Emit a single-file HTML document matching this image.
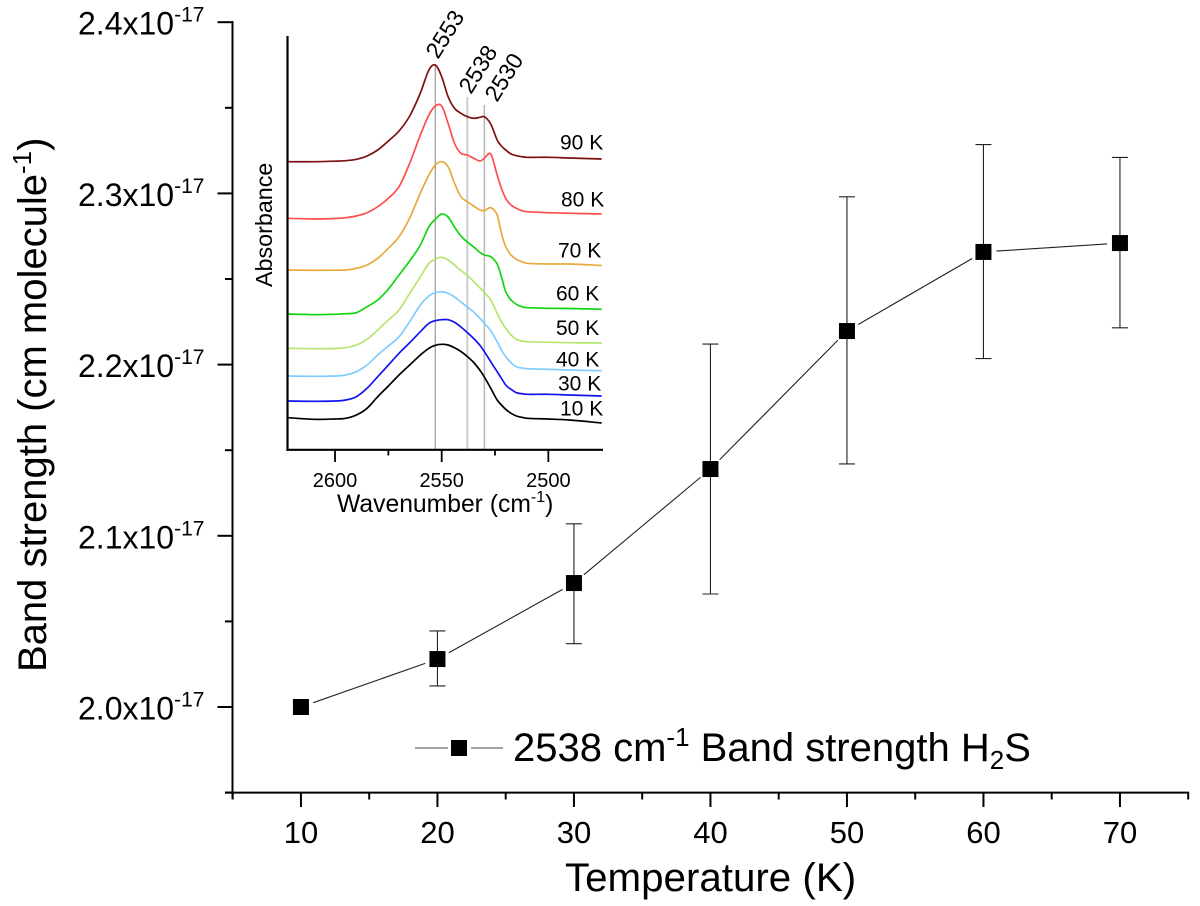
<!DOCTYPE html>
<html lang="en">
<head>
<meta charset="utf-8">
<title>Band strength vs temperature</title>
<style>
html,body{margin:0;padding:0;background:#fff;}
svg{display:block;font-family:"Liberation Sans",Arial,sans-serif;}
</style>
</head>
<body>
<svg id="chart" width="1200" height="906" viewBox="0 0 1200 906" xmlns="http://www.w3.org/2000/svg">
  <g id="main-plot"></g>
  <g id="inset-plot"></g>
  <text transform="translate(46,672) rotate(-90)" font-size="40">Band strength (cm molecule<tspan font-size="26" dy="-15">-1</tspan><tspan dy="15">)</tspan></text>
  <text x="565" y="891" font-size="40.3">Temperature (K)</text>
  <g>
    <line x1="415" x2="448" y1="748" y2="748" stroke="#444" stroke-width="1"/>
    <line x1="471" x2="503" y1="748" y2="748" stroke="#444" stroke-width="1"/>
    <rect x="451" y="740" width="16" height="16" fill="#000"/>
    <text x="513" y="761" font-size="40">2538 cm<tspan font-size="26" dy="-15">-1</tspan><tspan dy="15"> Band strength H</tspan><tspan font-size="26" dy="8">2</tspan><tspan dy="-8">S</tspan></text>
  </g>
  <text transform="translate(272,287) rotate(-90)" font-size="23.3">Absorbance</text>
  <text x="337" y="512" font-size="24.7">Wavenumber (cm<tspan font-size="16" dy="-10">-1</tspan><tspan dy="10">)</tspan></text>
  <text transform="translate(438,60) rotate(-58)" font-size="23">2553</text>
  <text transform="translate(471,95) rotate(-58)" font-size="23">2538</text>
  <text transform="translate(497,103) rotate(-58)" font-size="23">2530</text>
</svg>
<script>
// ---- main chart data ----
const temperatures = [10, 20, 30, 40, 50, 60, 70];
const bandStrength = [2.000, 2.028, 2.0724, 2.139, 2.2196, 2.2658, 2.271];
const errorUpper = [null, 2.0444, 2.107, 2.212, 2.298, 2.3285, 2.321];
const errorLower = [null, 2.0123, 2.037, 2.066, 2.142, 2.2035, 2.2215];
const xMajorTicks = [10, 20, 30, 40, 50, 60, 70];
const xMinorTicks = [5, 15, 25, 35, 45, 55, 65, 75];
const yMajorTicks = [2.0, 2.1, 2.2, 2.3, 2.4];
const yMinorTicks = [1.95, 2.05, 2.15, 2.25, 2.35];
const yTickLabels = ["2.0x10", "2.1x10", "2.2x10", "2.3x10", "2.4x10"];
const yTickExponent = "-17";

// ---- inset data ----
const wavenumbers = [2622,2610,2600,2595,2590,2585,2580,2575,2570,2565,2560,2556,2553,2550,2547,2544,2541,2538,2535,2532,2530,2527,2524,2522,2520,2517.5,2515,2512.5,2510,2500,2490,2475];
const abs10K = [.323,.307,.31,.317,.35,.417,.533,.64,.75,.85,.95,1.017,1.047,1.057,1.05,1.022,.985,.935,.875,.795,.73,.617,.50,.45,.407,.367,.34,.327,.317,.31,.30,.27];
const abs30K = [.49,.487,.49,.50,.533,.617,.733,.85,.967,1.073,1.183,1.267,1.293,1.303,1.303,1.277,1.23,1.175,1.115,1.045,.983,.883,.783,.717,.65,.607,.573,.563,.557,.557,.55,.54];
const abs40K = [.74,.737,.74,.75,.783,.85,.95,1.04,1.133,1.283,1.45,1.54,1.573,1.583,1.567,1.53,1.48,1.43,1.38,1.315,1.267,1.193,1.083,1.00,.933,.873,.833,.82,.813,.807,.80,.793];
const abs50K = [1.017,1.013,1.015,1.023,1.05,1.107,1.20,1.30,1.40,1.567,1.733,1.867,1.91,1.927,1.90,1.85,1.795,1.745,1.685,1.62,1.577,1.50,1.367,1.283,1.217,1.15,1.107,1.09,1.083,1.077,1.073,1.07];
const abs60K = [1.36,1.353,1.357,1.363,1.373,1.433,1.50,1.61,1.75,1.89,2.05,2.233,2.307,2.36,2.33,2.23,2.14,2.08,2.03,1.975,1.95,1.933,1.86,1.733,1.583,1.50,1.457,1.433,1.423,1.417,1.415,1.407];
const abs70K = [1.80,1.797,1.798,1.80,1.817,1.85,1.917,2.017,2.133,2.32,2.57,2.75,2.85,2.883,2.833,2.667,2.533,2.483,2.44,2.40,2.393,2.423,2.35,2.167,2.033,1.95,1.907,1.883,1.867,1.86,1.86,1.845];
const abs80K = [2.317,2.31,2.315,2.323,2.34,2.373,2.433,2.517,2.633,2.867,3.15,3.35,3.44,3.44,3.267,3.067,2.967,2.95,2.917,2.89,2.917,2.96,2.75,2.617,2.517,2.45,2.417,2.393,2.383,2.373,2.367,2.36];
const abs90K = [2.883,2.883,2.888,2.893,2.907,2.94,3.00,3.09,3.19,3.34,3.57,3.80,3.85,3.733,3.533,3.417,3.367,3.333,3.317,3.327,3.333,3.26,3.10,3.04,3.00,2.96,2.943,2.933,2.927,2.927,2.92,2.91];
const insetXMajorTicks = [2600, 2550, 2500];
const insetXMinorTicks = [2575, 2525];
const peakWavenumbers = [2553, 2538, 2530];
const peakTopAbs = [3.85, 3.53, 3.45];

const NS = "http://www.w3.org/2000/svg";
function mk(parent, tag, attrs, text) {
  const el = document.createElementNS(NS, tag);
  for (const k in attrs) el.setAttribute(k, attrs[k]);
  if (text !== undefined) el.textContent = text;
  parent.appendChild(el);
  return el;
}

// axis functions
const sx = t => 232.7 + (t - 5) * 13.65;
const sy = v => 707 - (v - 2.0) * 1712;
const ix = w => 441.7 + (2550 - w) * 2.133;
const iy = a => 450 - a * 100;

const main = document.getElementById("main-plot");
const inset = document.getElementById("inset-plot");

// main axes
const yAxis = mk(main, "line", {x1: 232.5, x2: 232.5, y1: 21, y2: 799, stroke: "#000", "stroke-width": 2});


const xAxis = mk(main, "line", {x1: 225, x2: 1189, y1: sy(1.95), y2: sy(1.95), stroke: "#000", "stroke-width": 2});



xMajorTicks.forEach(t => {
  const tick = mk(main, "line", {x1: sx(t), x2: sx(t), y1: 792, y2: 807, stroke: "#000", "stroke-width": 2});
  
  
  const label = mk(main, "text", {x: sx(t), y: 843, "font-size": 31, "text-anchor": "middle"}, String(t));
  
  
});
xMinorTicks.forEach(t => {
  const tick = mk(main, "line", {x1: sx(t), x2: sx(t), y1: 792, y2: 799.5, stroke: "#000", "stroke-width": 2});
  
  
});
yMajorTicks.forEach((v, i) => {
  const tick = mk(main, "line", {x1: 217.5, x2: 232.5, y1: sy(v), y2: sy(v), stroke: "#000", "stroke-width": 2});
  
  
  const label = mk(main, "text", {x: 78, y: sy(v) + 12.5, "font-size": 32}, yTickLabels[i]);
  
  
  const sup = mk(label, "tspan", {"font-size": 21, dy: -13}, yTickExponent);
  
  
});
yMinorTicks.forEach(v => {
  const tick = mk(main, "line", {x1: 225, x2: 232.5, y1: sy(v), y2: sy(v), stroke: "#000", "stroke-width": 2});
  
  
});

// error bars
temperatures.forEach((t, i) => {
  if (errorUpper[i] === null) return;
  const x = sx(t), top = sy(errorUpper[i]), bottom = sy(errorLower[i]);
  const bar = mk(main, "line", {x1: x, x2: x, y1: top, y2: bottom, stroke: "#222", "stroke-width": 1.1});
  
  
  const capTop = mk(main, "line", {x1: x - 8, x2: x + 8, y1: top, y2: top, stroke: "#222", "stroke-width": 1.1});
  
  
  const capBottom = mk(main, "line", {x1: x - 8, x2: x + 8, y1: bottom, y2: bottom, stroke: "#222", "stroke-width": 1.1});
  
  
});

// connecting line segments, with a gap around each marker
for (let i = 0; i < temperatures.length - 1; i++) {
  const x0 = sx(temperatures[i]), y0 = sy(bandStrength[i]);
  const x1 = sx(temperatures[i + 1]), y1 = sy(bandStrength[i + 1]);
  const len = Math.hypot(x1 - x0, y1 - y0), gap = 13;
  const ux = (x1 - x0) / len, uy = (y1 - y0) / len;
  const seg = mk(main, "line", {x1: x0 + ux * gap, y1: y0 + uy * gap, x2: x1 - ux * gap, y2: y1 - uy * gap, stroke: "#222", "stroke-width": 1.1});
  
  
}
temperatures.forEach((t, i) => {
  const m = mk(main, "rect", {x: sx(t) - 8, y: sy(bandStrength[i]) - 8, width: 16, height: 16, fill: "#000"});
  
  
});

// inset peak marker lines
const peakStroke = ["#999", "#ccc", "#bbb"];
const peakWidth = [1.2, 2, 1.6];
peakWavenumbers.forEach((w, i) => {
  const l = mk(inset, "line", {x1: ix(w), x2: ix(w), y1: iy(peakTopAbs[i]), y2: 450, stroke: peakStroke[i], "stroke-width": peakWidth[i]});
  
  
});

// inset spectra
function curvePath(values) {
  const xs = wavenumbers.map(ix), ys = values.map(iy);
  const n = xs.length;
  const slope = i => {
    if (i === 0) return (ys[1] - ys[0]) / (xs[1] - xs[0]);
    if (i === n - 1) return (ys[n - 1] - ys[n - 2]) / (xs[n - 1] - xs[n - 2]);
    return (ys[i + 1] - ys[i - 1]) / (xs[i + 1] - xs[i - 1]);
  };
  let d = "M" + xs[0].toFixed(2) + " " + ys[0].toFixed(2);
  for (let i = 0; i < n - 1; i++) {
    const h = (xs[i + 1] - xs[i]) / 3;
    d += " C" + (xs[i] + h).toFixed(2) + " " + (ys[i] + slope(i) * h).toFixed(2) +
         " " + (xs[i + 1] - h).toFixed(2) + " " + (ys[i + 1] - slope(i + 1) * h).toFixed(2) +
         " " + xs[i + 1].toFixed(2) + " " + ys[i + 1].toFixed(2);
  }
  return d;
}
function addSpectrum(values, color) {
  return mk(inset, "path", {d: curvePath(values), fill: "none", stroke: color, "stroke-width": 1.7});
}
const s10 = addSpectrum(abs10K, "#000000");


const s30 = addSpectrum(abs30K, "#1212f0");


const s40 = addSpectrum(abs40K, "#80ccff");


const s50 = addSpectrum(abs50K, "#b5e56f");


const s60 = addSpectrum(abs60K, "#10d510");


const s70 = addSpectrum(abs70K, "#e8a93a");


const s80 = addSpectrum(abs80K, "#ff4d4d");


const s90 = addSpectrum(abs90K, "#7b1113");



// inset axes
const insetY = mk(inset, "line", {x1: 287.5, x2: 287.5, y1: 36, y2: 451, stroke: "#000", "stroke-width": 2.2});


const insetX = mk(inset, "line", {x1: 286.5, x2: 603, y1: 449.8, y2: 449.8, stroke: "#000", "stroke-width": 2.2});


insetXMajorTicks.forEach(w => {
  const tick = mk(inset, "line", {x1: ix(w), x2: ix(w), y1: 450, y2: 462, stroke: "#000", "stroke-width": 1.8});
  
  
  const label = mk(inset, "text", {x: ix(w), y: 487, "font-size": 20, "text-anchor": "middle"}, String(w));
  
  
});
insetXMinorTicks.forEach(w => {
  const tick = mk(inset, "line", {x1: ix(w), x2: ix(w), y1: 450, y2: 455.5, stroke: "#000", "stroke-width": 1.8});
  
  
});

// inset temperature labels
function addTempLabel(x, y, text) {
  return mk(inset, "text", {x: x, y: y, "font-size": 21}, text);
}
const t90 = addTempLabel(560, 149.5, "90 K");


const t80 = addTempLabel(561, 206.7, "80 K");


const t70 = addTempLabel(558, 257.7, "70 K");


const t60 = addTempLabel(556, 300.7, "60 K");


const t50 = addTempLabel(556, 335, "50 K");


const t40 = addTempLabel(556, 366.7, "40 K");


const t30 = addTempLabel(558, 390.7, "30 K");


const t10 = addTempLabel(560, 415.7, "10 K");


</script>
</body>
</html>
